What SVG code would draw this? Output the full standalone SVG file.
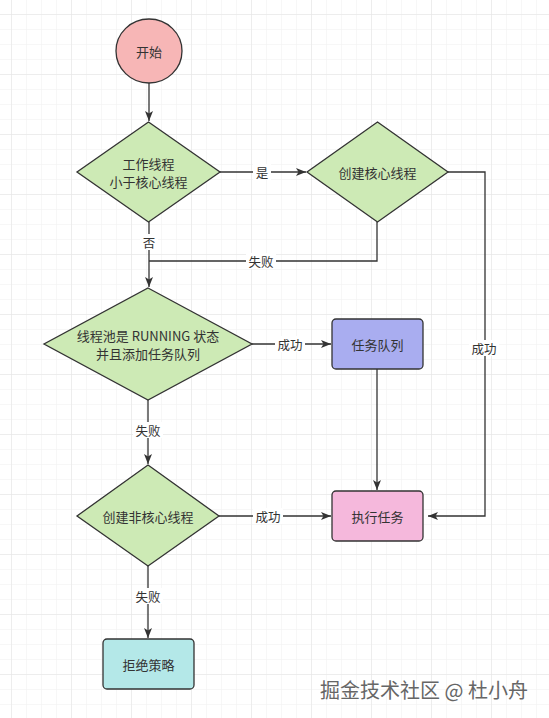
<svg xmlns="http://www.w3.org/2000/svg" width="549" height="718" viewBox="0 0 549 718">
<defs>
<pattern id="gMinor" width="15" height="15" patternUnits="userSpaceOnUse" x="11" y="14">
<path d="M0 0H15M0 0V15" fill="none" stroke="#efefef" stroke-width="1"/>
</pattern>
<pattern id="gMajor" width="60" height="60" patternUnits="userSpaceOnUse" x="11" y="14">
<path d="M0 0H60M0 0V60" fill="none" stroke="#e4e4e4" stroke-width="1"/>
</pattern>
<marker id="arr" viewBox="0 0 10 10" refX="10" refY="5" markerWidth="10" markerHeight="10" markerUnits="userSpaceOnUse" orient="auto">
<path d="M0 1L10 5L0 9L2.5 5Z" fill="#333"/>
</marker>
</defs>
<style>
.node{stroke:#333;stroke-width:1.3}
.dia{fill:#cdeab5}
.t{font-family:"Noto Sans CJK SC","Liberation Sans",sans-serif;font-size:13px;fill:#333;text-anchor:middle;dominant-baseline:central}
.edge{fill:none;stroke:#333;stroke-width:1.3}
.lbl{font-family:"Noto Sans CJK SC","Liberation Sans",sans-serif;font-size:12.5px;fill:#333;text-anchor:middle;dominant-baseline:central}
.lb{fill:#fff}
</style>
<rect width="549" height="718" fill="#fff"/>
<rect width="549" height="718" fill="url(#gMinor)"/>
<rect width="549" height="718" fill="url(#gMajor)"/>

<g id="connectors">
<path class="edge" d="M149 83V121" marker-end="url(#arr)"/>
<path class="edge" d="M220 172H306" marker-end="url(#arr)"/>
<path class="edge" d="M448 172H485V516H428" marker-end="url(#arr)"/>
<path class="edge" d="M377 222V261H149"/>
<path class="edge" d="M149 222V287" marker-end="url(#arr)"/>
<path class="edge" d="M252 344H331" marker-end="url(#arr)"/>
<path class="edge" d="M377 369V490" marker-end="url(#arr)"/>
<path class="edge" d="M148 400V464" marker-end="url(#arr)"/>
<path class="edge" d="M219 516H331" marker-end="url(#arr)"/>
<path class="edge" d="M148 566V638" marker-end="url(#arr)"/>
<rect class="lb" x="253" y="164" width="18" height="16"/>
<text class="lbl" x="262" y="172">是</text>
<rect class="lb" x="140" y="234" width="18" height="16"/>
<text class="lbl" x="149" y="242">否</text>
<rect class="lb" x="246" y="253" width="30" height="16"/>
<text class="lbl" x="261" y="261">失败</text>
<rect class="lb" x="469" y="340" width="30" height="16"/>
<text class="lbl" x="484" y="348">成功</text>
<rect class="lb" x="275" y="336" width="30" height="16"/>
<text class="lbl" x="290" y="344">成功</text>
<rect class="lb" x="133" y="422" width="30" height="16"/>
<text class="lbl" x="148" y="430">失败</text>
<rect class="lb" x="253" y="508" width="30" height="16"/>
<text class="lbl" x="268" y="516">成功</text>
<rect class="lb" x="133" y="588" width="30" height="16"/>
<text class="lbl" x="148" y="596">失败</text>
</g>

<g id="start">
<ellipse class="node" cx="149" cy="51" rx="33" ry="32" fill="#f7b6b6"/>
<text class="t" x="149" y="51">开始</text>
</g>
<g id="check-core">
<polygon class="node dia" points="148.5,122 220,172 148.5,222 77,172"/>
<text class="t" x="148.5" y="163">工作线程</text>
<text class="t" x="148.5" y="181.5">小于核心线程</text>
</g>
<g id="create-core">
<polygon class="node dia" points="377.5,122 448,172 377.5,222 307,172"/>
<text class="t" x="377.5" y="172">创建核心线程</text>
</g>
<g id="check-running">
<polygon class="node dia" points="148,288 252,344 148,400 44,344"/>
<text class="t" x="148" y="335">线程池是 RUNNING 状态</text>
<text class="t" x="148" y="353.5">并且添加任务队列</text>
</g>
<g id="task-queue">
<rect class="node" x="332" y="319" width="91" height="50" rx="4" fill="#a9adf0"/>
<text class="t" x="377.5" y="344">任务队列</text>
</g>
<g id="create-noncore">
<polygon class="node dia" points="148,465 219,516 148,566 77,516"/>
<text class="t" x="148" y="516">创建非核心线程</text>
</g>
<g id="execute">
<rect class="node" x="332" y="491" width="91" height="50" rx="4" fill="#f5b8dc"/>
<text class="t" x="377.5" y="516">执行任务</text>
</g>
<g id="reject">
<rect class="node" x="103" y="639" width="91" height="50" rx="4" fill="#b4e8e8"/>
<text class="t" x="148.5" y="664">拒绝策略</text>
</g>
<text x="424" y="689" style="font-family:'Noto Sans CJK SC','Liberation Sans',sans-serif;font-size:20px;fill:#666;text-anchor:middle;dominant-baseline:central;stroke:#fff;stroke-width:0.6;paint-order:stroke">掘金技术社区 @ 杜小舟</text>
</svg>
